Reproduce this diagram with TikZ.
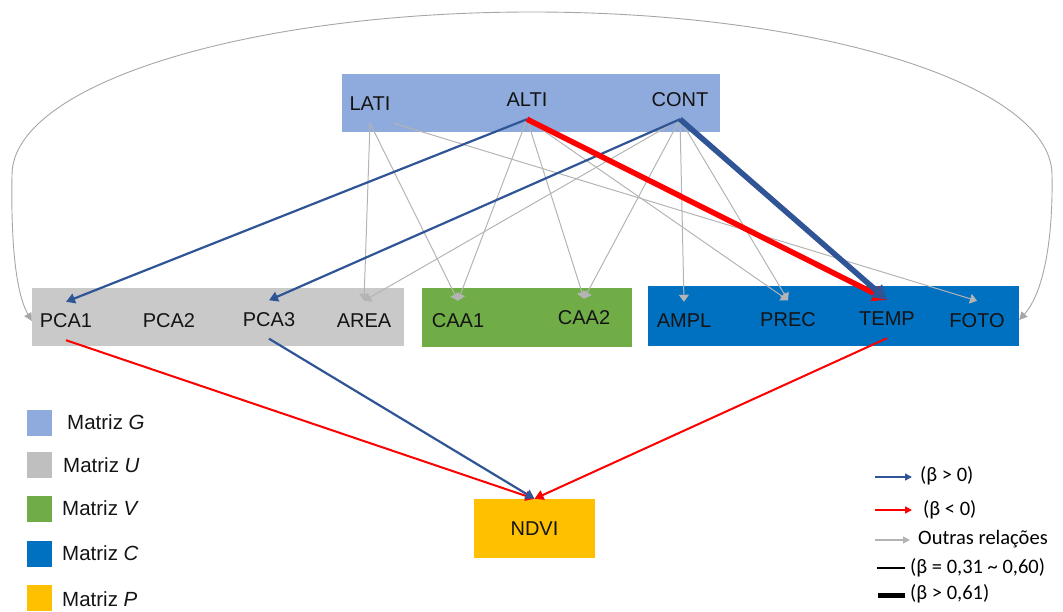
\documentclass[tikz,border=0pt]{standalone}
\usepackage{fontspec}
\setmainfont{Liberation Sans}
\newfontfamily\legfont{Carlito}
\usetikzlibrary{arrows.meta}
\definecolor{gbox}{HTML}{8FAADC}
\definecolor{ubox}{HTML}{C9C9C9}
\definecolor{usq}{HTML}{BFBFBF}
\definecolor{vbox}{HTML}{70AD47}
\definecolor{cbox}{HTML}{0070C0}
\definecolor{pbox}{HTML}{FFC000}
\definecolor{posblue}{HTML}{2F5597}
\definecolor{negred}{HTML}{FF0000}
\definecolor{othergray}{HTML}{B4B4B4}
\definecolor{arcgray}{HTML}{A6A6A6}
\definecolor{txt}{HTML}{141414}
\begin{document}
\begin{tikzpicture}[x=1pt,y=-1pt,
  box/.style={draw=none, rectangle, inner sep=0pt},
  lbl/.style={font=\fontsize{20}{24}\selectfont, text=txt, text height=14pt, text depth=0pt, inner xsep=3pt, inner ysep=12pt},
  sq/.style={draw=none, rectangle, inner sep=0pt, minimum width=25pt, minimum height=26pt},
  legtxt/.style={anchor=west, font=\fontsize{20.5}{24}\selectfont, text=txt, text height=14.2pt, text depth=0pt, inner sep=0pt},
  legtxtr/.style={anchor=west, font=\legfont\fontsize{20.5}{24}\selectfont, text=black, inner sep=0pt},
  otherline/.style={draw=othergray, line width=1pt, -{Triangle[length=7pt,width=10pt]}},
  posline/.style={draw=posblue, line width=2.2pt, -{Triangle[length=9pt,width=10pt]}},
  negline/.style={draw=negred, line width=2pt, -{Triangle[length=9pt,width=10pt]}},
  posthick/.style={draw=posblue, line width=5.5pt, -{Triangle[length=14pt,width=16pt]}},
  negthick/.style={draw=negred, line width=5.5pt, -{Triangle[length=14pt,width=16pt]}},
  arcline/.style={draw=arcgray, line width=0.9pt, {Triangle[length=8pt,width=8pt]}-{Triangle[length=8pt,width=8pt]}}
]
\useasboundingbox (0,0) rectangle (1063,612);

% boxes
\node[box, fill=gbox, minimum width=378pt, minimum height=58pt] (Gbox) at (530.5,103) {};
\node[box, fill=ubox, minimum width=372pt, minimum height=58pt] (Ubox) at (218,317) {};
\node[box, fill=vbox, minimum width=210pt, minimum height=59pt] (Vbox) at (527,317.5) {};
\node[box, fill=cbox, minimum width=371pt, minimum height=60pt] (Cbox) at (833.5,316) {};
\node[box, fill=pbox, minimum width=121pt, minimum height=59pt, font=\fontsize{20}{24}\selectfont, text=txt] (NDVI) at (534.5,528.5) {NDVI};

% labels
\node[lbl] (LATI) at (370,104) {LATI};
\node[lbl] (ALTI) at (527,100) {ALTI};
\node[lbl] (CONT) at (680,100) {CONT};
\node[lbl] (PCA1) at (66,321) {PCA1};
\node[lbl] (PCA2) at (169,321) {PCA2};
\node[lbl] (PCA3) at (269,319.5) {PCA3};
\node[lbl] (AREA) at (364,320) {AREA};
\node[lbl] (CAA1) at (458,320) {CAA1};
\node[lbl] (CAA2) at (584,318) {CAA2};
\node[lbl] (AMPL) at (684,321) {AMPL};
\node[lbl] (PREC) at (788,319.5) {PREC};
\node[lbl] (TEMP) at (887,319) {TEMP};
\node[lbl] (FOTO) at (977,320) {FOTO};

% other relations
\draw[otherline] (LATI.south) -- (AREA.north);
\draw[otherline] (LATI.south) -- (CAA1.north);
\draw[otherline] (LATI.south east) -- (FOTO.north);
\draw[otherline] (ALTI.south) -- (CAA1.north);
\draw[otherline] (ALTI.south) -- (CAA2.north);
\draw[otherline] (ALTI.south) -- (PREC.north);
\draw[otherline] (CONT.south) -- (AREA.north);
\draw[otherline] (CONT.south) -- (CAA2.north);
\draw[otherline] (CONT.south) -- (AMPL.north);
\draw[otherline] (CONT.south) -- (PREC.north);

% arc PCA1 <-> FOTO
\draw[arcline] (Ubox.west |- PCA1) .. controls (14,290) and (11,230) .. (12,175)
  .. controls (12,85) and (245,12) .. (532,12)
  .. controls (819,12) and (1052,85) .. (1052,175)
  .. controls (1053,230) and (1046,290) .. (Cbox.east |- FOTO);

% effects
\draw[posline] (ALTI.south) -- (PCA1.north);
\draw[posline] (CONT.south) -- (PCA3.north);
\draw[negthick] (ALTI.south) -- (TEMP.north);
\draw[posthick] (CONT.south) -- (TEMP.north);
\draw[negline] (PCA1.south) -- (NDVI.north);
\draw[posline] (PCA3.south) -- (NDVI.north);
\draw[negline] (TEMP.south) -- (NDVI.north);

% legend left
\node[sq, fill=gbox] (sqG) at (39,422.5) {};
\node[sq, fill=usq] (sqU) at (39,465) {};
\node[sq, fill=vbox] (sqV) at (39,509) {};
\node[sq, fill=cbox] (sqC) at (39.5,553.5) {};
\node[sq, fill=pbox] (sqP) at (39,597.5) {};
\node[legtxt] (tG) at (67,422) {Matriz \textit{G}};
\node[legtxt] (tU) at (63,465) {Matriz \textit{U}};
\node[legtxt] (tV) at (62,508) {Matriz \textit{V}};
\node[legtxt] (tC) at (62,553) {Matriz \textit{C}};
\node[legtxt] (tP) at (62,599) {Matriz \textit{P}};

% legend right
\coordinate (lb1) at (875,477); \coordinate (lb2) at (912,477);
\coordinate (lr1) at (875,510); \coordinate (lr2) at (912,510);
\coordinate (lg1) at (875,540); \coordinate (lg2) at (910,540);
\coordinate (lk1) at (877,568); \coordinate (lk2) at (905,568);
\coordinate (lt1) at (878,595); \coordinate (lt2) at (905,595);
\draw[draw=posblue, line width=1.5pt, -{Triangle[length=7pt,width=7pt]}] (lb1) -- (lb2);
\draw[draw=negred, line width=1.5pt, -{Triangle[length=7pt,width=7pt]}] (lr1) -- (lr2);
\draw[draw=othergray, line width=1.5pt, -{Triangle[length=7pt,width=7pt]}] (lg1) -- (lg2);
\draw[black, line width=2.3pt] (lk1) -- (lk2);
\draw[black, line width=5pt] (lt1) -- (lt2);
\node[legtxtr] (Lpos) at (920,476) {(β > 0)};
\node[legtxtr] (Lneg) at (923,510) {(β < 0)};
\node[legtxtr] (Loth) at (918,539) {Outras relações};
\node[legtxtr] (Lmid) at (910,568) {(β = 0,31 \textasciitilde{} 0,60)};
\node[legtxtr] (Lbig) at (910,594) {(β > 0,61)};
\end{tikzpicture}
\end{document}
